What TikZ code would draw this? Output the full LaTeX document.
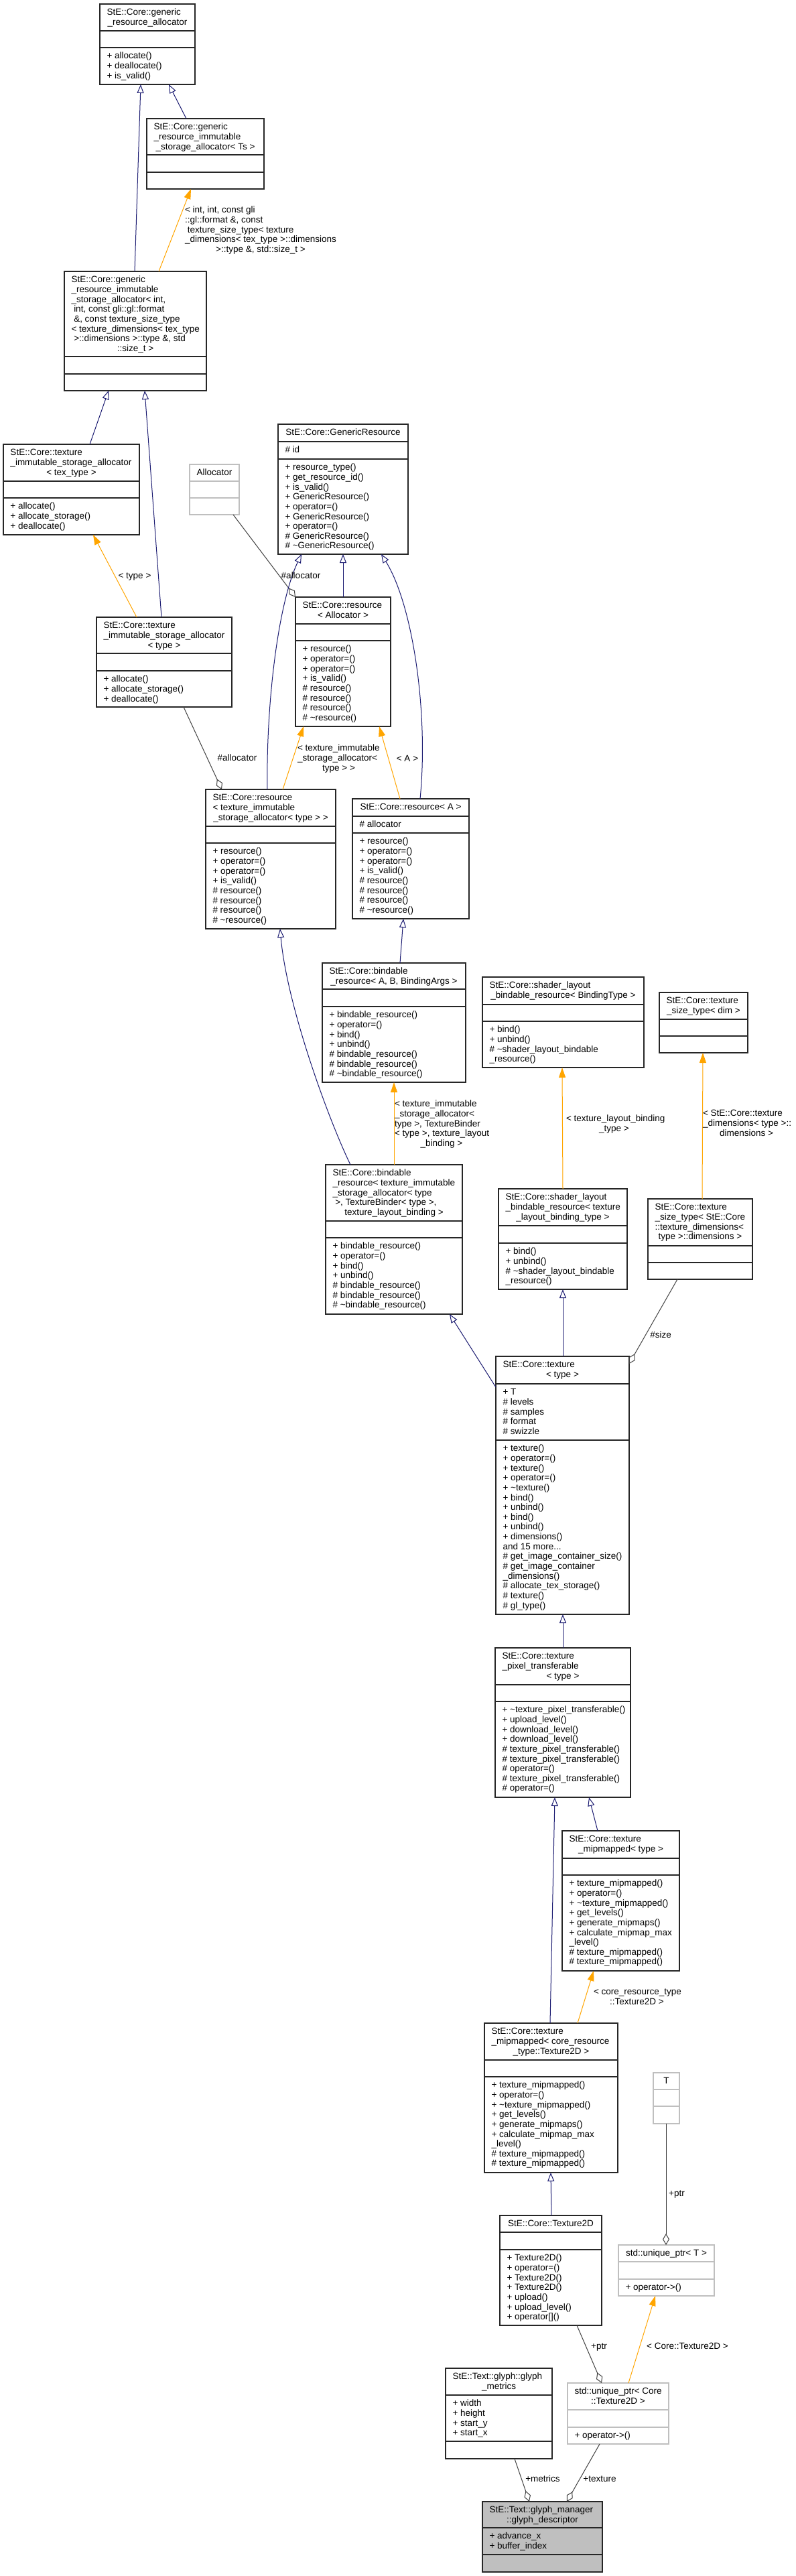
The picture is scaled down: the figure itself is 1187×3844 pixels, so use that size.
\documentclass[tikz,border=0pt]{standalone}
\usepackage{fontspec}
\setmainfont{Liberation Sans}
\usetikzlibrary{arrows.meta}
\definecolor{inhc}{HTML}{191970}
\definecolor{tmplc}{HTML}{FFA500}
\definecolor{usec}{HTML}{404040}
\definecolor{greyb}{HTML}{BFBFBF}
\newlength\bw
\newcommand\Ln[1]{\hbox to\bw{\strut\hskip10.5pt\relax#1\hss}}
\newcommand\Cn[1]{\hbox to\bw{\strut\hss#1\hss}}
\newcommand\Lz[1]{\hbox to\bw{\strut#1\hss}}
\newcommand\geom[6]{\def\gxa{#1}\def\gxb{#2}\def\gya{#3}\def\gyb{#4}\def\gyc{#5}\def\gyd{#6}}
\newcommand\cls[5]{%
  \setlength\bw{\dimexpr\gxb pt-\gxa pt\relax}%
  \node[#2, anchor=north west, minimum width=\bw, minimum height={(\gyd-\gya)*1pt}] (#1) at (\gxa,\gya) {};
  \draw[#2] (\gxa,\gyb) -- (\gxb,\gyb);
  \draw[#2] (\gxa,\gyc) -- (\gxb,\gyc);
  \node[txt] (#1-t) at ({(\gxa+\gxb)/2},\gya+6.5) {\vbox{#3}};
  \node[txt] (#1-a) at ({(\gxa+\gxb)/2},\gyb+6.5) {\vbox{#4}};
  \node[txt] (#1-m) at ({(\gxa+\gxb)/2},\gyc+6.5) {\vbox{#5}};
}
\newcommand\lab[5]{\setlength\bw{#4pt}\node[txt] (#1) at (#2,#3-5.5) {\vbox{#5}};}
\def\resmeth{\Ln{+ resource()}\Ln{+ operator=()}\Ln{+ operator=()}\Ln{+ is\_valid()}\Ln{\# resource()}\Ln{\# resource()}\Ln{\# resource()}\Ln{\# \textasciitilde resource()}}
\def\bindmeth{\Ln{+ bindable\_resource()}\Ln{+ operator=()}\Ln{+ bind()}\Ln{+ unbind()}\Ln{\# bindable\_resource()}\Ln{\# bindable\_resource()}\Ln{\# \textasciitilde bindable\_resource()}}
\def\shmeth{\Ln{+ bind()}\Ln{+ unbind()}\Ln{\# \textasciitilde shader\_layout\_bindable}\Ln{\_resource()}}
\def\mipmeth{\Ln{+ texture\_mipmapped()}\Ln{+ operator=()}\Ln{+ \textasciitilde texture\_mipmapped()}\Ln{+ get\_levels()}\Ln{+ generate\_mipmaps()}\Ln{+ calculate\_mipmap\_max}\Ln{\_level()}\Ln{\# texture\_mipmapped()}\Ln{\# texture\_mipmapped()}}
\def\allocmeth{\Ln{+ allocate()}\Ln{+ allocate\_storage()}\Ln{+ deallocate()}}
\begin{document}
\begin{tikzpicture}[x=1pt,y=-1pt,
  txt/.style={anchor=north,inner sep=0pt,outer sep=0pt,font=\fontsize{13.5}{14.65}\selectfont},
  bx/.style={draw=black!85,line width=1.1pt,fill=white,inner sep=0pt,outer sep=0pt},
  gbx/.style={draw=greyb,line width=1.1pt,fill=white,inner sep=0pt,outer sep=0pt},
  fbx/.style={draw=black!85,line width=1.1pt,fill=greyb,inner sep=0pt,outer sep=0pt},
  inh/.style={draw=inhc,line width=1pt,-{Triangle[open,length=13pt,width=10pt]}},
  tmpl/.style={draw=tmplc,line width=1pt,-{Triangle[length=15pt,width=10pt]}},
  usg/.style={draw=usec,line width=1pt,-{Diamond[open,length=17pt,width=10pt]}}]
\fill[white] (0,0) rectangle (1187,3844);
\useasboundingbox (0,0) rectangle (1187,3844);

\geom{149}{291}{6}{46}{71}{126}
\cls{b1}{bx}{\Ln{StE::Core::generic}\Cn{\_resource\_allocator}}{}{\Ln{+ allocate()}\Ln{+ deallocate()}\Ln{+ is\_valid()}}

\geom{219}{394}{177}{231}{257}{282}
\cls{b2}{bx}{\Ln{StE::Core::generic}\Ln{\_resource\_immutable}\Cn{\_storage\_allocator< Ts >}}{}{}

\geom{96}{308}{405}{532}{558}{583}
\cls{b3}{bx}{\Ln{StE::Core::generic}\Ln{\_resource\_immutable}\Ln{\_storage\_allocator< int,}\Ln{ int, const gli::gl::format}\Ln{ \&, const texture\_size\_type}\Ln{< texture\_dimensions< tex\_type}\Ln{ >::dimensions >::type \&, std}\Cn{::size\_t >}}{}{}

\geom{5}{208}{663}{718}{743}{798}
\cls{b4}{bx}{\Ln{StE::Core::texture}\Ln{\_immutable\_storage\_allocator}\Cn{< tex\_type >}}{}{\allocmeth}

\geom{283}{357}{693}{718}{743}{768}
\cls{alloc}{gbx}{\Cn{Allocator}}{}{}

\geom{415}{609}{633}{659}{685}{827}
\cls{gr}{bx}{\Cn{StE::Core::GenericResource}}{\Ln{\# id}}{\Ln{+ resource\_type()}\Ln{+ get\_resource\_id()}\Ln{+ is\_valid()}\Ln{+ GenericResource()}\Ln{+ operator=()}\Ln{+ GenericResource()}\Ln{+ operator=()}\Ln{\# GenericResource()}\Ln{\# \textasciitilde GenericResource()}}

\geom{441}{583}{891}{931}{956}{1084}
\cls{resa}{bx}{\Ln{StE::Core::resource}\Cn{< Allocator >}}{}{\resmeth}

\geom{144}{346}{921}{975}{1001}{1055}
\cls{b5}{bx}{\Ln{StE::Core::texture}\Ln{\_immutable\_storage\_allocator}\Cn{< type >}}{}{\allocmeth}

\geom{307}{501}{1178}{1233}{1258}{1386}
\cls{b8}{bx}{\Ln{StE::Core::resource}\Ln{< texture\_immutable}\Cn{\_storage\_allocator< type > >}}{}{\resmeth}

\geom{526}{700}{1192}{1218}{1243}{1371}
\cls{b9}{bx}{\Cn{StE::Core::resource< A >}}{\Ln{\# allocator}}{\resmeth}

\geom{481}{695}{1437}{1476}{1502}{1615}
\cls{b10}{bx}{\Ln{StE::Core::bindable}\Cn{\_resource< A, B, BindingArgs >}}{}{\bindmeth}

\geom{720}{961}{1458}{1499}{1524}{1593}
\cls{b11}{bx}{\Ln{StE::Core::shader\_layout}\Cn{\_bindable\_resource< BindingType >}}{}{\shmeth}

\geom{984}{1116}{1481}{1521}{1546}{1571}
\cls{b13}{bx}{\Ln{StE::Core::texture}\Cn{\_size\_type< dim >}}{}{}

\geom{486}{690}{1738}{1822}{1847}{1961}
\cls{b12}{bx}{\Ln{StE::Core::bindable}\Ln{\_resource< texture\_immutable}\Ln{\_storage\_allocator< type}\Ln{ >, TextureBinder< type >,}\Cn{texture\_layout\_binding >}}{}{\bindmeth}

\geom{744}{936}{1774}{1829}{1855}{1924}
\cls{b14}{bx}{\Ln{StE::Core::shader\_layout}\Ln{\_bindable\_resource< texture}\Cn{\_layout\_binding\_type >}}{}{\shmeth}

\geom{967}{1123}{1789}{1859}{1884}{1909}
\cls{b15}{bx}{\Ln{StE::Core::texture}\Ln{\_size\_type< StE::Core}\Ln{::texture\_dimensions<}\Cn{type >::dimensions >}}{}{}

\geom{740}{939}{2024}{2065}{2149}{2409}
\cls{b16}{bx}{\Ln{StE::Core::texture}\Cn{< type >}}{\Ln{+ T}\Ln{\# levels}\Ln{\# samples}\Ln{\# format}\Ln{\# swizzle}}{\Ln{+ texture()}\Ln{+ operator=()}\Ln{+ texture()}\Ln{+ operator=()}\Ln{+ \textasciitilde texture()}\Ln{+ bind()}\Ln{+ unbind()}\Ln{+ bind()}\Ln{+ unbind()}\Ln{+ dimensions()}\Ln{and 15 more...}\Ln{\# get\_image\_container\_size()}\Ln{\# get\_image\_container}\Ln{\_dimensions()}\Ln{\# allocate\_tex\_storage()}\Ln{\# texture()}\Ln{\# gl\_type()}}

\geom{739}{941}{2459}{2514}{2539}{2682}
\cls{b17}{bx}{\Ln{StE::Core::texture}\Ln{\_pixel\_transferable}\Cn{< type >}}{}{\Ln{+ \textasciitilde texture\_pixel\_transferable()}\Ln{+ upload\_level()}\Ln{+ download\_level()}\Ln{+ download\_level()}\Ln{\# texture\_pixel\_transferable()}\Ln{\# texture\_pixel\_transferable()}\Ln{\# operator=()}\Ln{\# texture\_pixel\_transferable()}\Ln{\# operator=()}}

\geom{839}{1014}{2732}{2773}{2798}{2941}
\cls{b18}{bx}{\Ln{StE::Core::texture}\Cn{\_mipmapped< type >}}{}{\mipmeth}

\geom{723}{922}{3019}{3074}{3099}{3242}
\cls{b19}{bx}{\Ln{StE::Core::texture}\Ln{\_mipmapped< core\_resource}\Cn{\_type::Texture2D >}}{}{\mipmeth}

\geom{975}{1014}{3093}{3118}{3143}{3169}
\cls{tb}{gbx}{\Cn{T}}{}{}

\geom{746}{898}{3306}{3331}{3357}{3470}
\cls{b20}{bx}{\Cn{StE::Core::Texture2D}}{}{\Ln{+ Texture2D()}\Ln{+ operator=()}\Ln{+ Texture2D()}\Ln{+ Texture2D()}\Ln{+ upload()}\Ln{+ upload\_level()}\Ln{+ operator[]()}}

\geom{923}{1066}{3350}{3375}{3401}{3426}
\cls{b21}{gbx}{\Cn{std::unique\_ptr< T >}}{}{\Ln{+ operator->()}}

\geom{847}{998}{3556}{3596}{3622}{3647}
\cls{b22}{gbx}{\Ln{std::unique\_ptr< Core}\Cn{::Texture2D >}}{}{\Ln{+ operator->()}}

\geom{665}{824}{3534}{3574}{3643}{3669}
\cls{b23}{bx}{\Ln{StE::Text::glyph::glyph}\Cn{\_metrics}}{\Ln{+ width}\Ln{+ height}\Ln{+ start\_y}\Ln{+ start\_x}}{}

\geom{720}{899}{3733}{3772}{3812}{3838}
\cls{b24}{fbx}{\Ln{StE::Text::glyph\_manager}\Cn{::glyph\_descriptor}}{\Ln{+ advance\_x}\Ln{+ buffer\_index}}{}

% connectors
\draw[inh] ([xshift=59pt]b2.north west) -- ([xshift=103pt]b1.south west);
\draw[inh] ([xshift=105pt]b3.north west) -- ([xshift=61pt]b1.south west);
\draw[tmpl] ([xshift=141pt]b3.north west) -- ([xshift=66pt]b2.south west);
\draw[inh] ([xshift=129pt]b4.north west) -- ([xshift=66pt]b3.south west);
\draw[inh] ([xshift=97pt]b5.north west) -- ([xshift=120pt]b3.south west);
\draw[tmpl] ([xshift=60pt]b5.north west) -- ([xshift=134pt]b4.south west);
\draw[usg] ([xshift=65pt]alloc.south west) -- (resa.north west);
\draw[inh] (resa.north) -- ([xshift=97pt]gr.south west);
\draw[inh] ([xshift=92pt]b8.north west) .. controls (397,1050) and (415,900) .. ([xshift=35pt]gr.south west);
\draw[inh] ([xshift=101pt]b9.north west) .. controls (640,1060) and (615,900) .. ([xshift=154pt]gr.south west);
\draw[tmpl] ([xshift=115pt]b8.north west) -- ([xshift=12pt]resa.south west);
\draw[tmpl] ([xshift=71pt]b9.north west) -- ([xshift=125pt]resa.south west);
\draw[usg] ([xshift=130pt]b5.south west) -- ([xshift=24pt]b8.north west);
\draw[inh] ([xshift=37pt]b12.north west) .. controls (490,1670) and (428,1500) .. ([xshift=111pt]b8.south west);
\draw[inh] ([xshift=116pt]b10.north west) -- ([xshift=76pt]b9.south west);
\draw[tmpl] ([xshift=102pt]b12.north west) -- ([xshift=107pt]b10.south west);
\draw[tmpl] ([xshift=96pt]b14.north west) -- ([xshift=119pt]b11.south west);
\draw[tmpl] ([xshift=81pt]b15.north west) -- ([xshift=65pt]b13.south west);
\draw[inh] ([xshift=100pt]b16.north west) -- ([xshift=96pt]b14.south west);
\draw[inh] ([yshift=-46pt]b16.north west) -- ([xshift=185pt]b12.south west);
\draw[usg] ([xshift=44pt]b15.south west) -- ([yshift=-11pt]b16.north east);
\draw[inh] ([xshift=101pt]b17.north west) -- ([xshift=100pt]b16.south west);
\draw[inh] ([xshift=98pt]b19.north west) -- ([xshift=89pt]b17.south west);
\draw[inh] ([xshift=53pt]b18.north west) -- ([xshift=140pt]b17.south west);
\draw[tmpl] ([xshift=139pt]b19.north west) -- ([xshift=47pt]b18.south west);
\draw[inh] ([xshift=77pt]b20.north west) -- ([xshift=99pt]b19.south west);
\draw[usg] ([xshift=19pt]tb.south west) -- ([xshift=71pt]b21.north west);
\draw[tmpl] ([xshift=91pt]b22.north west) -- ([xshift=55pt]b21.south west);
\draw[usg] ([xshift=115pt]b20.south west) -- ([xshift=51pt]b22.north west);
\draw[usg] ([xshift=103pt]b23.south west) -- ([xshift=70pt]b24.north west);
\draw[usg] ([xshift=48pt]b22.south west) -- ([xshift=126pt]b24.north west);

% labels
\lab{l3}{389}{313}{226}{\Lz{< int, int, const gli}\Lz{::gl::format \&, const}\Lz{ texture\_size\_type< texture}\Lz{\_dimensions< tex\_type >::dimensions}\Cn{>::type \&, std::size\_t >}}
\lab{l6}{201}{859}{60}{\Cn{< type >}}
\lab{l7}{449}{859}{70}{\Cn{\#allocator}}
\lab{l11}{505.5}{1116}{123}{\Lz{< texture\_immutable}\Lz{\_storage\_allocator<}\Cn{type > >}}
\lab{l12}{608}{1132}{40}{\Cn{< A >}}
\lab{l13}{354}{1131}{70}{\Cn{\#allocator}}
\lab{l16}{659}{1647}{140}{\Lz{< texture\_immutable}\Lz{\_storage\_allocator<}\Lz{type >, TextureBinder}\Lz{< type >, texture\_layout}\Cn{\_binding >}}
\lab{l17}{916.5}{1669}{143}{\Lz{< texture\_layout\_binding}\Cn{\_type >}}
\lab{l18}{1114}{1661}{130}{\Lz{< StE::Core::texture}\Lz{\_dimensions< type >::}\Cn{dimensions >}}
\lab{l21}{986}{1992}{40}{\Cn{\#size}}
\lab{l25}{950.5}{2972}{129}{\Lz{< core\_resource\_type}\Cn{::Texture2D >}}
\lab{l27}{1010}{3273}{30}{\Cn{+ptr}}
\lab{l28}{1026}{3501}{130}{\Cn{< Core::Texture2D >}}
\lab{l29}{894}{3501}{30}{\Cn{+ptr}}
\lab{l30}{810}{3699}{60}{\Cn{+metrics}}
\lab{l31}{895}{3699}{60}{\Cn{+texture}}
\end{tikzpicture}
\end{document}
